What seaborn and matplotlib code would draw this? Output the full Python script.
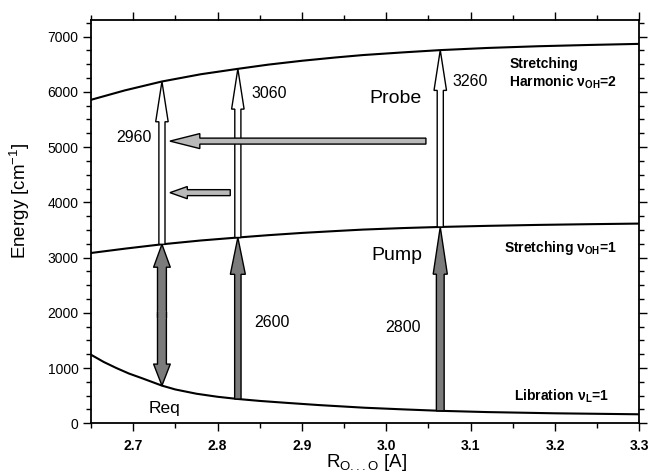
import numpy as np
import pandas as pd
import matplotlib
matplotlib.use("Agg")
import matplotlib.pyplot as plt
import seaborn as sns
from matplotlib.patches import FancyArrowPatch, ArrowStyle
from matplotlib.ticker import MultipleLocator, FormatStrFormatter

# ---------------- data ----------------
r_top = [2.650, 2.690, 2.734, 2.780, 2.824, 2.860, 2.900, 2.940, 2.972, 3.020, 3.064, 3.120, 3.180, 3.240, 3.300]
e_top = [5856, 6026, 6187, 6318, 6416, 6492, 6562, 6622, 6665, 6714, 6755, 6794, 6825, 6848, 6868]

r_mid = [2.650, 2.690, 2.734, 2.780, 2.824, 2.860, 2.900, 2.940, 2.972, 3.020, 3.064, 3.120, 3.180, 3.240, 3.300]
e_mid = [3083, 3161, 3240, 3309, 3363, 3405, 3446, 3480, 3506, 3534, 3554, 3574, 3591, 3604, 3615]

r_lib = [2.650, 2.665, 2.680, 2.695, 2.710, 2.734, 2.750, 2.775, 2.800, 2.824, 2.850,
         2.880, 2.920, 2.974, 3.020, 3.064, 3.120, 3.200, 3.300]
e_lib = [1240, 1110, 1000, 900, 818, 682, 612, 535, 480, 440, 405,
         372, 330, 282, 252, 226, 203, 181, 163]

# vertical transitions at three O...O distances
arrow_r = [2.734, 2.824, 3.064]
pump_start = [682, 440, 226]      # libration level
pump_end = [3240, 3363, 3554]     # v_OH = 1
probe_end = [6187, 6416, 6755]    # v_OH = 2

# horizontal (shift) arrows
shift_e = [5108, 4175]
shift_from = [3.047, 2.815]
shift_to = [2.7435, 2.7435]

# labels
num_labels = ["2960", "3060", "3260", "2600", "2800"]
num_r = [2.701, 2.861, 3.099, 2.865, 3.020]
num_e = [5174, 5968, 6186, 1822, 1731]

level_labels = ["Stretching\nHarmonic ν$_{\\mathbf{OH}}$=2",
                "Stretching ν$_{\\mathbf{OH}}$=1",
                "Libration ν$_{\\mathbf{L}}$=1"]
level_r = [3.146, 3.140, 3.152]
level_e = [6320, 3180, 485]

x_ticks = [2.7, 2.8, 2.9, 3.0, 3.1, 3.2, 3.3]
y_ticks = [0, 1000, 2000, 3000, 4000, 5000, 6000, 7000]

# ---------------- style ----------------
sns.set_style("ticks")
plt.rcParams['font.family'] = ['Liberation Sans', 'DejaVu Sans']
plt.rcParams['mathtext.fontset'] = 'custom'
plt.rcParams['mathtext.rm'] = 'Liberation Sans'
plt.rcParams['mathtext.it'] = 'Liberation Sans:italic'
plt.rcParams['mathtext.bf'] = 'Liberation Sans:bold'
for k in ('text.color', 'axes.labelcolor', 'xtick.color', 'ytick.color', 'axes.edgecolor'):
    plt.rcParams[k] = 'black'

fig = plt.figure(figsize=(6.51, 4.76), dpi=100)
W, H = 651, 476
x0, x1, ytop, ybot = 91.1, 639.3, 20.0, 423.3
ax = fig.add_axes([x0 / W, (H - ybot) / H, (x1 - x0) / W, (ybot - ytop) / H])

df_top = pd.DataFrame({"R": r_top, "E": e_top})
df_mid = pd.DataFrame({"R": r_mid, "E": e_mid})
df_lib = pd.DataFrame({"R": r_lib, "E": e_lib})
for d in (df_top, df_mid, df_lib):
    sns.lineplot(data=d, x="R", y="E", color="black", lw=1.5, ax=ax, zorder=2)

ax.set_xlim(2.65, 3.3)
ax.set_ylim(0, 7300)


def arrow(p0, p1, hl, hw, tw, fc, ec="black", lw=1.0, z=3, join="miter"):
    style = ArrowStyle.Simple(head_length=hl, head_width=hw, tail_width=tw)
    a = FancyArrowPatch(p0, p1, arrowstyle=style, mutation_scale=1,
                        fc=fc, ec=ec, lw=lw, shrinkA=0, shrinkB=0,
                        joinstyle=join, zorder=z)
    ax.add_patch(a)


pump_col = "#7b7b7b"
shift_col = "#b9b9b9"

# double-headed pump arrow (first position): two halves meeting in the
# middle; the seam is redrawn as outline + fill so no join mark remains
r = arrow_r[0]
mid = 0.5 * (pump_start[0] + pump_end[0])
dbl_tw = 6.4
arrow((r, mid), (r, pump_end[0]), 16.5, 12.0, dbl_tw, pump_col, z=3, join="round")
arrow((r, mid), (r, pump_start[0]), 15.5, 12.0, dbl_tw, pump_col, z=3, join="round")
ax.plot([r, r], [mid - 60, mid + 60], color="black", lw=dbl_tw + 1.0,
        solid_capstyle="butt", zorder=3.5)
ax.plot([r, r], [mid - 70, mid + 70], color=pump_col, lw=dbl_tw - 1.0,
        solid_capstyle="butt", zorder=4)

# single pump arrows
arrow((arrow_r[1], pump_start[1]), (arrow_r[1], pump_end[1]), 26.5, 10.8, 4.6, pump_col)
arrow((arrow_r[2], pump_start[2]), (arrow_r[2], pump_end[2]), 34.0, 10.2, 5.6, pump_col)

# probe arrows (white)
for r, e0, e1 in zip(arrow_r, pump_end, probe_end):
    arrow((r, e0), (r, e1), 29.0, 9.0, 4.4, "white")

# horizontal shift arrows
arrow((shift_from[0], shift_e[0]), (shift_to[0], shift_e[0]), 21.5, 10.8, 4.3, shift_col)
arrow((shift_from[1], shift_e[1]), (shift_to[1], shift_e[1]), 12.5, 8.8, 4.3, shift_col)

# text labels
for t, r, e in zip(num_labels, num_r, num_e):
    ax.text(r, e, t, fontsize=11.5, ha="center", va="center")
ax.text(3.0105, 5880, "Probe", fontsize=14, ha="center", va="center")
ax.text(3.012, 3042, "Pump", fontsize=14, ha="center", va="center")
ax.text(2.7366, 259, "Req", fontsize=12.5, ha="center", va="center")
for t, r, e in zip(level_labels, level_r, level_e):
    ax.text(r, e, t, fontsize=10, fontweight="bold", ha="left", va="center",
            linespacing=1.15)

# axes, ticks
ax.set_xticks(x_ticks)
ax.set_yticks(y_ticks)
ax.xaxis.set_major_formatter(FormatStrFormatter("%.1f"))
ax.xaxis.set_minor_locator(MultipleLocator(0.05))
ax.yaxis.set_minor_locator(MultipleLocator(250))
ax.tick_params(which="both", direction="out", top=True, right=True, width=1.0, color="black")
ax.tick_params(which="major", length=6)
ax.tick_params(which="minor", length=3.5)
ax.tick_params(axis="y", labelsize=10, pad=3)
ax.tick_params(axis="x", labelsize=10, pad=5)
for lab in ax.get_xticklabels():
    lab.set_fontweight("bold")
for lab in ax.get_yticklabels():
    lab.set_fontweight("normal")
for s in ax.spines.values():
    s.set_linewidth(1.3)
    s.set_color("black")

ax.set_xlabel("R$_{\\mathregular{O...O}}$ [A]", fontsize=13.5)
ax.set_ylabel("Energy [cm$^{\\mathregular{-1}}$]", fontsize=13.5)
ax.xaxis.set_label_coords(0.503, -0.072)
ax.yaxis.set_label_coords(-0.108, 0.551)

fig.savefig("out.png", dpi=100)
